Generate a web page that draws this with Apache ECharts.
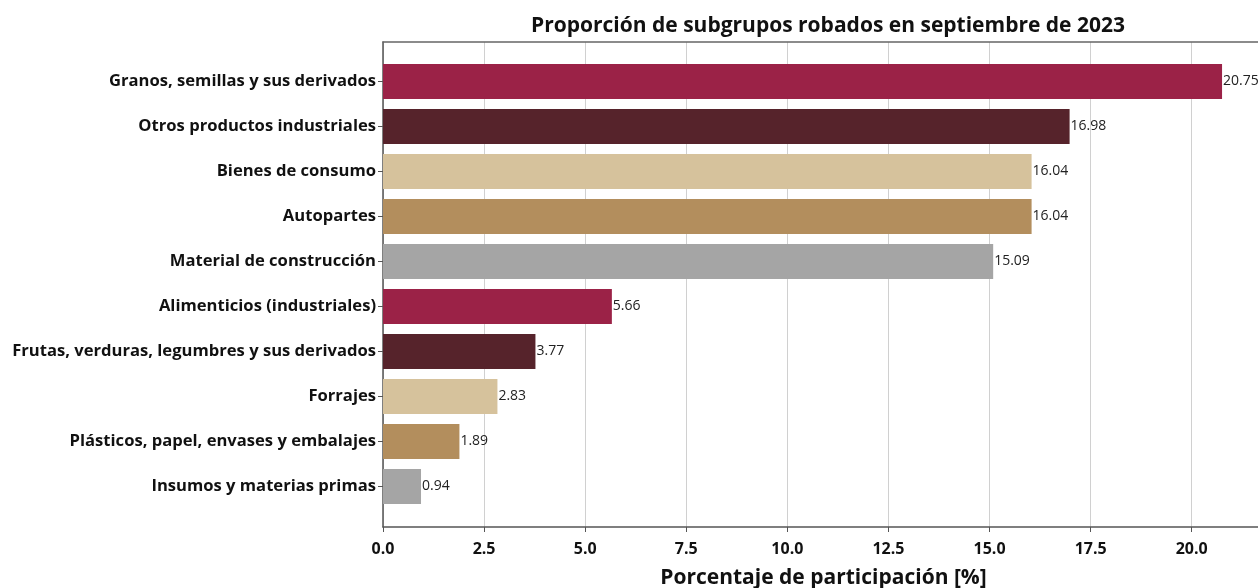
<!DOCTYPE html>
<html>
<head>
<meta charset="utf-8">
<script src="https://cdn.jsdelivr.net/npm/echarts@6/dist/echarts.min.js"></script>
<style>html,body{margin:0;padding:0;background:#fff}#c{width:1258px;height:588px}</style>
</head>
<body>
<div id="c"></div>
<script>
var categories = ["Granos, semillas y sus derivados","Otros productos industriales","Bienes de consumo","Autopartes","Material de construcción","Alimenticios (industriales)","Frutas, verduras, legumbres y sus derivados","Forrajes","Plásticos, papel, envases y embalajes","Insumos y materias primas"];
var values = [20.75,16.98,16.04,16.04,15.09,5.66,3.77,2.83,1.89,0.94];
var colors = ["#9B2247","#56232B","#D6C29C","#B38E5D","#A5A5A5","#9B2247","#56232B","#D6C29C","#B38E5D","#A5A5A5"];
var xTicks = [0,2.5,5,7.5,10,12.5,15,17.5,20];
var titleText = "Proporción de subgrupos robados en septiembre de 2023";
var xName = "Porcentaje de participación [%]";

var FONT = "Open Sans";
var xmax = 20.75*1.05;
var chart = echarts.init(document.getElementById('c'));
chart.setOption({
  animation:false,
  title:{text:titleText,left:823,textAlign:'center',top:11,textStyle:{fontFamily:FONT,fontWeight:'bold',fontSize:21,color:'#111'}},
  grid:[
    {left:383,right:-6,top:59,bottom:79,containLabel:false,outerBoundsMode:'none'},
    {left:383,right:-6,top:42,bottom:61,show:false,containLabel:false,outerBoundsMode:'none'}
  ],
  xAxis:[
    {gridIndex:0,type:'value',min:0,max:xmax,show:false},
    {gridIndex:1,type:'value',min:0,max:xmax,interval:2.5,
     axisLine:{show:true,lineStyle:{color:'#555',width:1.5}},
     axisTick:{show:true,length:5,lineStyle:{color:'#555'}},
     axisLabel:{fontFamily:FONT,fontWeight:'bold',fontSize:16,color:'#111',margin:14,showMaxLabel:false,
       formatter:function(v){return xTicks.indexOf(v)>=0? v.toFixed(1):'';}},
     splitLine:{show:true,lineStyle:{color:'#d0d0d0',width:1}},
     name:xName,nameLocation:'middle',nameGap:41,
     nameTextStyle:{fontFamily:FONT,fontWeight:'bold',fontSize:21,color:'#111'}},
    {gridIndex:1,type:'value',position:'top',min:0,max:xmax,
     axisLine:{show:true,lineStyle:{color:'#666',width:1.5}},axisTick:{show:false},axisLabel:{show:false},splitLine:{show:false}}
  ],
  yAxis:[
    {gridIndex:0,type:'category',data:categories,inverse:true,
     axisLine:{show:false},
     axisTick:{show:true,alignWithLabel:true,length:5,lineStyle:{color:'#555'}},
     axisLabel:{fontFamily:FONT,fontWeight:'bold',fontSize:16.6,color:'#111',margin:7}},
    {gridIndex:1,type:'value',min:0,max:1,show:true,axisLine:{show:true,lineStyle:{color:'#555',width:1.5}},axisTick:{show:false},axisLabel:{show:false},splitLine:{show:false}}
  ],
  series:[{
    type:'bar',xAxisIndex:0,yAxisIndex:0,barWidth:'78%',
    data:values.map(function(v,i){return {value:v,itemStyle:{color:colors[i]}};}),
    label:{show:true,position:'right',distance:1,fontFamily:FONT,fontSize:14,color:'#222',
      formatter:function(p){return p.value.toFixed(2);}}
  }]
});
</script>
</body>
</html>
